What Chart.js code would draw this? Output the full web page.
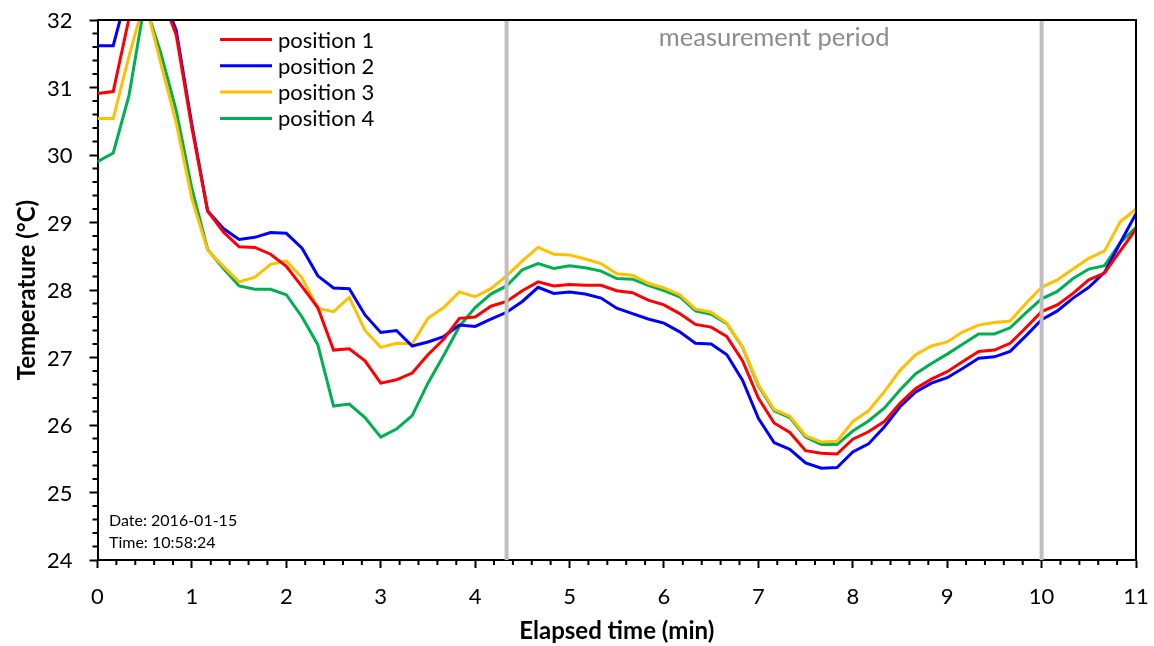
<!DOCTYPE html>
<html>
<head>
<meta charset="utf-8">
<script src="https://cdn.jsdelivr.net/npm/chart.js@4.4.1/dist/chart.umd.min.js"></script>
<style>
  html, body { margin: 0; padding: 0; background: #ffffff; }
  #wrap { width: 1154px; height: 646px; position: relative; }
</style>
</head>
<body>
<div id="wrap"><canvas id="c" width="1154" height="646"></canvas></div>
<script>
// elapsed time in seconds (sampled every 10 s)
const timeSec = [0,10,20,30,40,50,60,70,80,90,100,110,120,130,140,150,160,170,180,190,200,210,220,230,240,250,260,270,280,290,300,310,320,330,340,350,360,370,380,390,400,410,420,430,440,450,460,470,480,490,500,510,520,530,540,550,560,570,580,590,600,610,620,630,640,650,660];

const seriesNames = ["position 1", "position 2", "position 3", "position 4"];
const seriesColors = ["#ff0000", "#0000ff", "#ffc000", "#00b050"];

const position1 = [30.91,30.94,32.02,32.60,32.40,31.78,30.40,29.17,28.86,28.64,28.63,28.53,28.35,28.05,27.74,27.11,27.13,26.95,26.62,26.67,26.77,27.04,27.27,27.58,27.60,27.76,27.83,27.99,28.12,28.06,28.08,28.07,28.07,27.99,27.96,27.85,27.78,27.65,27.49,27.45,27.31,26.95,26.40,26.03,25.89,25.62,25.58,25.57,25.79,25.90,26.05,26.32,26.54,26.68,26.79,26.94,27.09,27.11,27.21,27.44,27.68,27.78,27.95,28.15,28.25,28.58,28.90];
const position2 = [31.62,31.62,32.50,32.70,32.45,31.85,30.45,29.17,28.91,28.75,28.78,28.85,28.84,28.62,28.21,28.03,28.02,27.63,27.37,27.40,27.17,27.23,27.31,27.48,27.46,27.57,27.67,27.83,28.04,27.95,27.97,27.94,27.88,27.73,27.65,27.57,27.51,27.38,27.21,27.20,27.04,26.66,26.10,25.74,25.64,25.44,25.36,25.37,25.60,25.72,25.97,26.27,26.49,26.62,26.70,26.84,26.99,27.01,27.09,27.32,27.56,27.69,27.88,28.04,28.26,28.70,29.13];
const position3 = [30.54,30.54,31.46,32.30,31.38,30.48,29.35,28.59,28.35,28.12,28.19,28.38,28.43,28.18,27.73,27.68,27.89,27.40,27.15,27.21,27.20,27.58,27.74,27.97,27.90,28.02,28.21,28.43,28.63,28.53,28.52,28.46,28.39,28.24,28.22,28.10,28.03,27.93,27.72,27.67,27.51,27.15,26.60,26.23,26.13,25.84,25.75,25.76,26.05,26.21,26.49,26.81,27.04,27.17,27.23,27.38,27.48,27.52,27.54,27.80,28.04,28.15,28.31,28.47,28.58,29.01,29.20];
const position4 = [29.90,30.03,30.88,32.25,31.53,30.66,29.50,28.60,28.32,28.06,28.01,28.01,27.93,27.60,27.19,26.28,26.31,26.11,25.82,25.94,26.14,26.62,27.03,27.46,27.74,27.94,28.06,28.30,28.39,28.32,28.36,28.33,28.28,28.17,28.16,28.07,27.99,27.90,27.69,27.64,27.50,27.15,26.58,26.21,26.11,25.82,25.71,25.71,25.91,26.06,26.25,26.52,26.76,26.91,27.05,27.20,27.35,27.35,27.44,27.66,27.87,27.98,28.17,28.31,28.36,28.70,28.93];

const xTicks = [0,1,2,3,4,5,6,7,8,9,10,11];
const yTicks = [24,25,26,27,28,29,30,31,32];
const periodMarks = [4 + 20/60, 10]; // minutes
const periodLabel = "measurement period";
const dateLines = ["Date: 2016-01-15", "Time: 10:58:24"];
const xTitle = "Elapsed time (min)";
const yTitle = "Temperature (°C)";

const FONT = "Lato, 'Open Sans', sans-serif";
const allSeries = [position1, position2, position3, position4];
const datasets = allSeries.map((vals, k) => ({
  label: seriesNames[k],
  data: vals.map((v, i) => ({ x: timeSec[i] / 60, y: v })),
  borderColor: seriesColors[k],
  backgroundColor: seriesColors[k],
  borderWidth: 3,
  pointRadius: 0,
  tension: 0,
  clip: 0
}));

const decorPlugin = {
  id: 'decor',
  afterDatasetsDraw(chart) {
    const ctx = chart.ctx;
    const xs = chart.scales.x, ys = chart.scales.y;
    const a = chart.chartArea;
    ctx.save();
    // measurement period markers
    ctx.strokeStyle = '#bfbfbf';
    ctx.lineWidth = 4;
    periodMarks.forEach(m => {
      const px = xs.getPixelForValue(m);
      ctx.beginPath(); ctx.moveTo(px, a.top); ctx.lineTo(px, a.bottom); ctx.stroke();
    });
    ctx.fillStyle = '#8c8c8c';
    ctx.font = "25.5px " + FONT;
    ctx.textAlign = 'center'; ctx.textBaseline = 'middle';
    const mid = (xs.getPixelForValue(periodMarks[0]) + xs.getPixelForValue(periodMarks[1])) / 2;
    ctx.fillText(periodLabel, mid, a.top + 18);

    // box top/right
    ctx.strokeStyle = '#000'; ctx.lineWidth = 2;
    ctx.beginPath();
    ctx.moveTo(a.left, a.top); ctx.lineTo(a.right, a.top); ctx.lineTo(a.right, a.bottom);
    ctx.stroke();

    // minor ticks
    ctx.lineWidth = 2;
    for (let v = 0; v <= 11.001; v += 0.2) {
      if (Math.abs(v - Math.round(v)) < 1e-6) continue;
      const px = xs.getPixelForValue(v);
      ctx.beginPath(); ctx.moveTo(px, a.bottom); ctx.lineTo(px, a.bottom + 5); ctx.stroke();
    }
    for (let v = 24; v <= 32.001; v += 0.2) {
      if (Math.abs(v - Math.round(v)) < 1e-6) continue;
      const py = ys.getPixelForValue(v);
      ctx.beginPath(); ctx.moveTo(a.left, py); ctx.lineTo(a.left - 5, py); ctx.stroke();
    }

    // y tick labels
    ctx.font = "22px " + FONT;
    ctx.fillStyle = '#000';
    ctx.textAlign = 'right'; ctx.textBaseline = 'middle';
    yTicks.forEach(v => ctx.fillText(String(v), a.left - 25, ys.getPixelForValue(v) + 1));

    // legend
    ctx.font = "22px " + FONT;
    ctx.textAlign = 'left'; ctx.textBaseline = 'middle';
    seriesNames.forEach((n, k) => {
      const y = 39.5 + k * 26.3;
      ctx.strokeStyle = seriesColors[k]; ctx.lineWidth = 3;
      ctx.beginPath(); ctx.moveTo(220, y); ctx.lineTo(272, y); ctx.stroke();
      ctx.fillStyle = '#000';
      ctx.fillText(n, 278, y + 1);
    });

    // date / time note
    ctx.font = "16px " + FONT;
    ctx.fillStyle = '#000';
    dateLines.forEach((t, k) => ctx.fillText(t, 109, 521 + k * 22));
    ctx.restore();
  }
};

new Chart(document.getElementById('c'), {
  type: 'line',
  data: { datasets },
  plugins: [decorPlugin],
  options: {
    responsive: false,
    animation: false,
    layout: { padding: { top: 20, right: 18, left: 0, bottom: 0 } },
    plugins: { legend: { display: false }, tooltip: { enabled: false } },
    scales: {
      x: {
        type: 'linear', min: 0, max: 11,
        afterBuildTicks(s) { s.ticks = xTicks.map(v => ({ value: v })); },
        afterFit(s) { s.height = 86; s.paddingLeft = 0; s.paddingRight = 0; },
        ticks: { color: '#000', font: { family: FONT, size: 22 }, padding: 16, maxRotation: 0, autoSkip: false },
        grid: { display: true, drawOnChartArea: false, drawTicks: true, tickLength: 8, tickWidth: 2, tickColor: '#000' },
        border: { display: true, color: '#000', width: 2 },
        title: { display: true, text: xTitle, color: '#000', font: { family: FONT, size: 24, weight: 'bold' }, padding: { top: 0, bottom: 0 } }
      },
      y: {
        type: 'linear', min: 24, max: 32,
        afterBuildTicks(s) { s.ticks = yTicks.map(v => ({ value: v })); },
        afterFit(s) { s.width = 97.5; s.paddingTop = 0; s.paddingBottom = 0; },
        ticks: { display: false },
        grid: { display: true, drawOnChartArea: false, drawTicks: true, tickLength: 8, tickWidth: 2, tickColor: '#000' },
        border: { display: true, color: '#000', width: 2 },
        title: { display: true, text: yTitle, color: '#000', font: { family: FONT, size: 24, weight: 'bold' }, padding: { top: 13, bottom: 0 } }
      }
    }
  }
});
</script>
</body>
</html>
